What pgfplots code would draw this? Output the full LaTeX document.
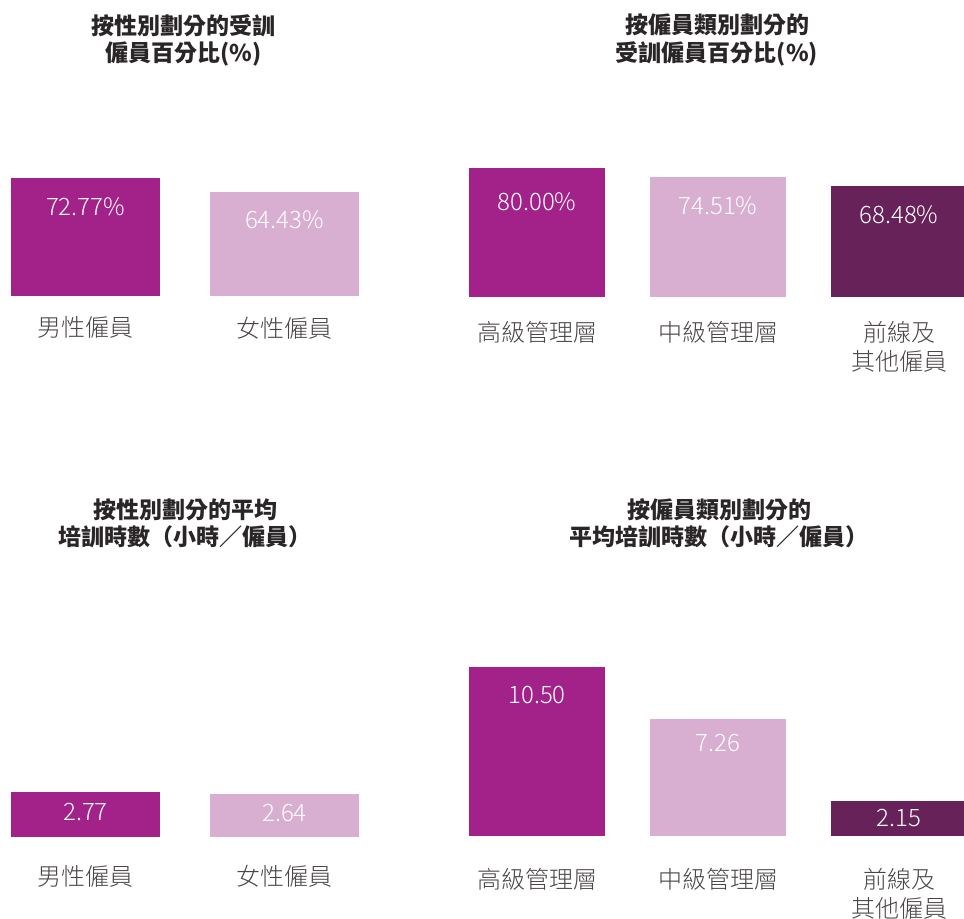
\documentclass[border=0pt]{standalone}
\usepackage{pgfplots}
\pgfplotsset{compat=1.18}
\usepackage{fontspec}
\IfFontExistsTF{Noto Sans CJK TC Light}{\setmainfont{Noto Sans CJK TC Light}}{\setmainfont{Noto Sans CJK TC}}
\newfontfamily\titlefont{Noto Sans CJK TC}
\definecolor{cA}{HTML}{A3228A}
\definecolor{cB}{HTML}{D8AED1}
\definecolor{cC}{HTML}{68225A}
\definecolor{lbl}{HTML}{4A4546}
\definecolor{ttl}{HTML}{2A2627}
\pgfplotsset{
  panel/.style={scale only axis, ymin=0, clip=false, anchor=south west,
    axis line style={draw=none}, tick style={draw=none}, ytick=\empty,
    xtick={0,1,2}, xmin=-0.5,
    xticklabel style={anchor=north, inner sep=0pt, align=center,
      font=\fontsize{12}{14.25}\selectfont, text=lbl},
    /pgf/number format/assume math mode=true},
  val/.style 2 args={ybar, fill=#1, draw=none, bar shift=0pt,
    nodes near coords,
    every node near coord/.append style={anchor=center, inner sep=0pt,
      yshift=-#2, text=white, font=\fontsize{12}{14}\selectfont}},
  pct/.style={nodes near coords={\pgfmathprintnumber[fixed,fixed zerofill,precision=2]{\pgfplotspointmeta}\%}},
  hrs/.style={nodes near coords={\pgfmathprintnumber[fixed,fixed zerofill,precision=2]{\pgfplotspointmeta}}},
}
\begin{document}
\begin{tikzpicture}
\path[use as bounding box] (0,0) rectangle (482pt,459.5pt);
\tikzset{ttlnode/.style={anchor=north, align=center, inner sep=0pt, text=ttl,
  font=\titlefont\bfseries\fontsize{11.5}{13.9}\selectfont}}
\node[ttlnode] at (91.75pt,452.6pt) {按性別劃分的受訓\\僱員百分比(\%)};
\node[ttlnode] at (358.5pt,452.6pt) {按僱員類別劃分的\\受訓僱員百分比(\%)};
\node[ttlnode] at (92.5pt,210.5pt) {按性別劃分的平均\\培訓時數（小時／僱員）};
\node[ttlnode] at (359.5pt,210.5pt) {按僱員類別劃分的\\平均培訓時數（小時／僱員）};

% Top-left
\begin{axis}[panel, at={(-7pt,311.65pt)}, x=99.5pt, y=0.806pt, xmax=1.5, ymax=100,
  xticklabels={男性僱員,女性僱員}, xticklabel style={yshift=-10.35pt}]
\addplot[val={cA}{14pt}, pct, bar width=74.5pt] coordinates {(0,72.77)};
\addplot[val={cB}{14pt}, pct, bar width=74.5pt] coordinates {(1,64.43)};
\end{axis}

% Top-right
\begin{axis}[panel, at={(223.25pt,311.15pt)}, x=90.5pt, y=0.806pt, xmax=2.5, ymax=100,
  xticklabels={高級管理層,中級管理層,{前線及\\其他僱員}}, xticklabel style={yshift=-12.15pt}]
\addplot[val={cA}{17pt}, pct, bar width=68pt] coordinates {(0,80.00)};
\addplot[val={cB}{14.5pt}, pct, bar width=68pt] coordinates {(1,74.51)};
\addplot[val={cC}{14pt}, pct, bar width=68pt] coordinates {(2,68.48)};
\end{axis}

% Bottom-left
\begin{axis}[panel, at={(-7pt,41.15pt)}, x=99.5pt, y=8.07pt, xmax=1.5, ymax=12,
  xticklabels={男性僱員,女性僱員}, xticklabel style={yshift=-14.15pt}]
\addplot[val={cA}{10pt}, hrs, bar width=74.5pt] coordinates {(0,2.77)};
\addplot[val={cB}{9.5pt}, hrs, bar width=74.5pt] coordinates {(1,2.64)};
\end{axis}

% Bottom-right
\begin{axis}[panel, at={(223.25pt,41.65pt)}, x=90.5pt, y=8.04pt, xmax=2.5, ymax=12,
  xticklabels={高級管理層,中級管理層,{前線及\\其他僱員}}, xticklabel style={yshift=-16.3pt}]
\addplot[val={cA}{14pt}, hrs, bar width=68pt] coordinates {(0,10.50)};
\addplot[val={cB}{12pt}, hrs, bar width=68pt] coordinates {(1,7.26)};
\addplot[val={cC}{8.5pt}, hrs, bar width=68pt] coordinates {(2,2.15)};
\end{axis}
\end{tikzpicture}
\end{document}
